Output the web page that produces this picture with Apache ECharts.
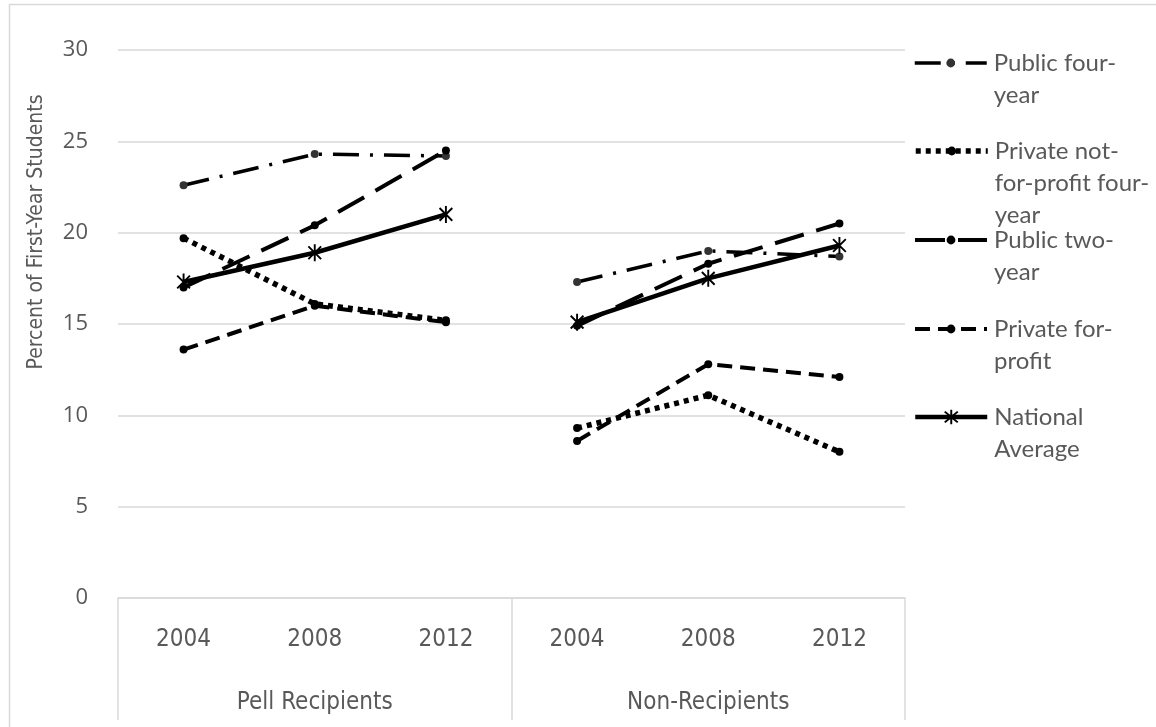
<!DOCTYPE html>
<html>
<head>
<meta charset="utf-8">
<title>First-Year Students by Sector</title>
<script src="https://cdn.jsdelivr.net/npm/echarts@6/dist/echarts.min.js"></script>
<style>
  html, body { margin: 0; padding: 0; background: #fff; }
  #chart { width: 1156px; height: 727px; }
</style>
</head>
<body>
<div id="chart"></div>
<script>
// Category labels
const years = ['2004', '2008', '2012', '2004', '2008', '2012'];
const groups = ['Pell Recipients', 'Non-Recipients'];
const yTicks = [0, 5, 10, 15, 20, 25, 30];

// Series names and their wrapped legend labels
const seriesNames = [
  'Public four-year',
  'Private not-for-profit four-year',
  'Public two-year',
  'Private for-profit',
  'National Average'
];
const legendLabels = [
  'Public four-\nyear',
  'Private not-\nfor-profit four-\nyear',
  'Public two-\nyear',
  'Private for-\nprofit',
  'National\nAverage'
];

// Percent of first-year students: Pell recipients (2004, 2008, 2012)
const pellPublicFour = [22.6, 24.3, 24.2];
const pellPrivateNonprofit = [19.7, 16.1, 15.2];
const pellPublicTwo = [17.0, 20.4, 24.5];
const pellPrivateForProfit = [13.6, 16.0, 15.1];
const pellNational = [17.3, 18.9, 21.0];

// Percent of first-year students: non-recipients (2004, 2008, 2012)
const nonPublicFour = [17.3, 19.0, 18.7];
const nonPrivateNonprofit = [9.3, 11.1, 8.0];
const nonPublicTwo = [14.9, 18.3, 20.5];
const nonPrivateForProfit = [8.6, 12.8, 12.1];
const nonNational = [15.1, 17.5, 19.3];

const pellSets = [pellPublicFour, pellPrivateNonprofit, pellPublicTwo, pellPrivateForProfit, pellNational];
const nonSets = [nonPublicFour, nonPrivateNonprofit, nonPublicTwo, nonPrivateForProfit, nonNational];

// Asterisk marker built from three filled bars
const asterisk = 'path://M-0.9,-8L0.9,-8L0.9,8L-0.9,8Z' +
  'M-5.36,-6.64L6.64,5.36L5.36,6.64L-6.64,-5.36Z' +
  'M6.64,-5.36L-5.36,6.64L-6.64,5.36L5.36,-6.64Z';

// Per-series line and marker styles
const looks = [
  { dash: [26, 11, 3, 11], width: 3.5, symbol: 'circle', size: 8, mark: '#333333', legendH: 11 },
  { dash: [5, 5], width: 5.5, symbol: 'circle', size: 8, mark: '#000000', legendH: 11 },
  { dash: [30, 13], width: 4, symbol: 'circle', size: 8, mark: '#000000', legendH: 11 },
  { dash: [15, 8], width: 4, symbol: 'circle', size: 8, mark: '#000000', legendH: 11 },
  { dash: 'solid', width: 4.5, symbol: asterisk, size: 17, mark: '#000000', legendH: 18 }
];

const GAP = '-';
const series = [];
seriesNames.forEach((name, i) => {
  const lk = looks[i];
  const halves = [
    pellSets[i].concat([GAP, GAP, GAP]),
    [GAP, GAP, GAP].concat(nonSets[i])
  ];
  halves.forEach(data => {
    series.push({
      name: name,
      type: 'line',
      data: data,
      connectNulls: false,
      symbol: lk.symbol,
      symbolSize: lk.size,
      symbolKeepAspect: true,
      showSymbol: true,
      z: 2 + i,
      lineStyle: { color: '#000', width: lk.width, type: lk.dash, cap: 'butt' },
      itemStyle: { color: lk.mark, borderWidth: 0 },
      emphasis: { disabled: true },
      animation: false
    });
  });
});

// One legend block per series; leading blank lines put the first text
// line level with the legend marker
const LINE_H = 32;
const legendSymbolY = [63, 151, 240, 329, 417];
const legends = seriesNames.map((name, i) => {
  const lines = legendLabels[i].split('\n');
  const n = lines.length;
  const padded = new Array(n - 1).fill(' ').concat(lines).join('\n');
  const boxH = (2 * n - 1) * LINE_H;
  return {
    orient: 'vertical',
    left: 913,
    top: legendSymbolY[i] - boxH / 2,
    padding: 0,
    itemWidth: 72,
    itemHeight: looks[i].legendH,
    itemGap: 0,
    selectedMode: false,
    data: [name],
    formatter: () => padded,
    lineStyle: { width: 'inherit' },
    textStyle: {
      fontFamily: 'Lato',
      fontSize: 24,
      color: '#595959',
      lineHeight: LINE_H,
      padding: [0, 0, 0, 2]
    }
  };
});

const narrow = "'Liberation Sans Narrow', 'DejaVu Sans Condensed', sans-serif";

const chart = echarts.init(document.getElementById('chart'), null, { renderer: 'canvas' });
chart.setOption({
  backgroundColor: '#ffffff',
  animation: false,
  grid: { left: 118, right: 251, top: 50, bottom: 129, containLabel: false },
  legend: legends,
  xAxis: [
    {
      type: 'category',
      data: years,
      boundaryGap: true,
      position: 'bottom',
      axisLine: { show: true, lineStyle: { color: '#d9d9d9', width: 1.5 } },
      axisTick: { show: false },
      axisLabel: {
        margin: 30,
        fontFamily: narrow,
        fontSize: 24,
        color: '#595959'
      },
      splitLine: { show: false }
    },
    {
      type: 'category',
      data: groups,
      boundaryGap: true,
      position: 'bottom',
      axisLine: { show: false },
      axisTick: {
        show: true,
        alignWithLabel: false,
        length: 122,
        lineStyle: { color: '#d9d9d9', width: 1.5 }
      },
      axisLabel: {
        margin: 93,
        fontFamily: narrow,
        fontSize: 24,
        color: '#595959'
      },
      splitLine: { show: false }
    }
  ],
  yAxis: {
    type: 'value',
    min: yTicks[0],
    max: yTicks[yTicks.length - 1],
    interval: 5,
    axisLine: { show: false },
    axisTick: { show: false },
    axisLabel: {
      margin: 30,
      fontFamily: 'Open Sans',
      fontSize: 22,
      color: '#595959'
    },
    splitLine: { show: true, lineStyle: { color: '#d9d9d9', width: 1.5 } }
  },
  graphic: [
    {
      type: 'rect',
      silent: true,
      shape: { x: 9.5, y: 4.5, width: 1300, height: 900 },
      style: { fill: 'none', stroke: '#d9d9d9', lineWidth: 1.5 }
    },
    {
      type: 'text',
      silent: true,
      x: 37,
      y: 232,
      rotation: Math.PI / 2,
      style: {
        text: 'Percent of First-Year Students',
        fontFamily: narrow,
        fontSize: 21,
        fill: '#595959',
        align: 'center',
        verticalAlign: 'middle'
      }
    }
  ],
  series: series
});
</script>
</body>
</html>
